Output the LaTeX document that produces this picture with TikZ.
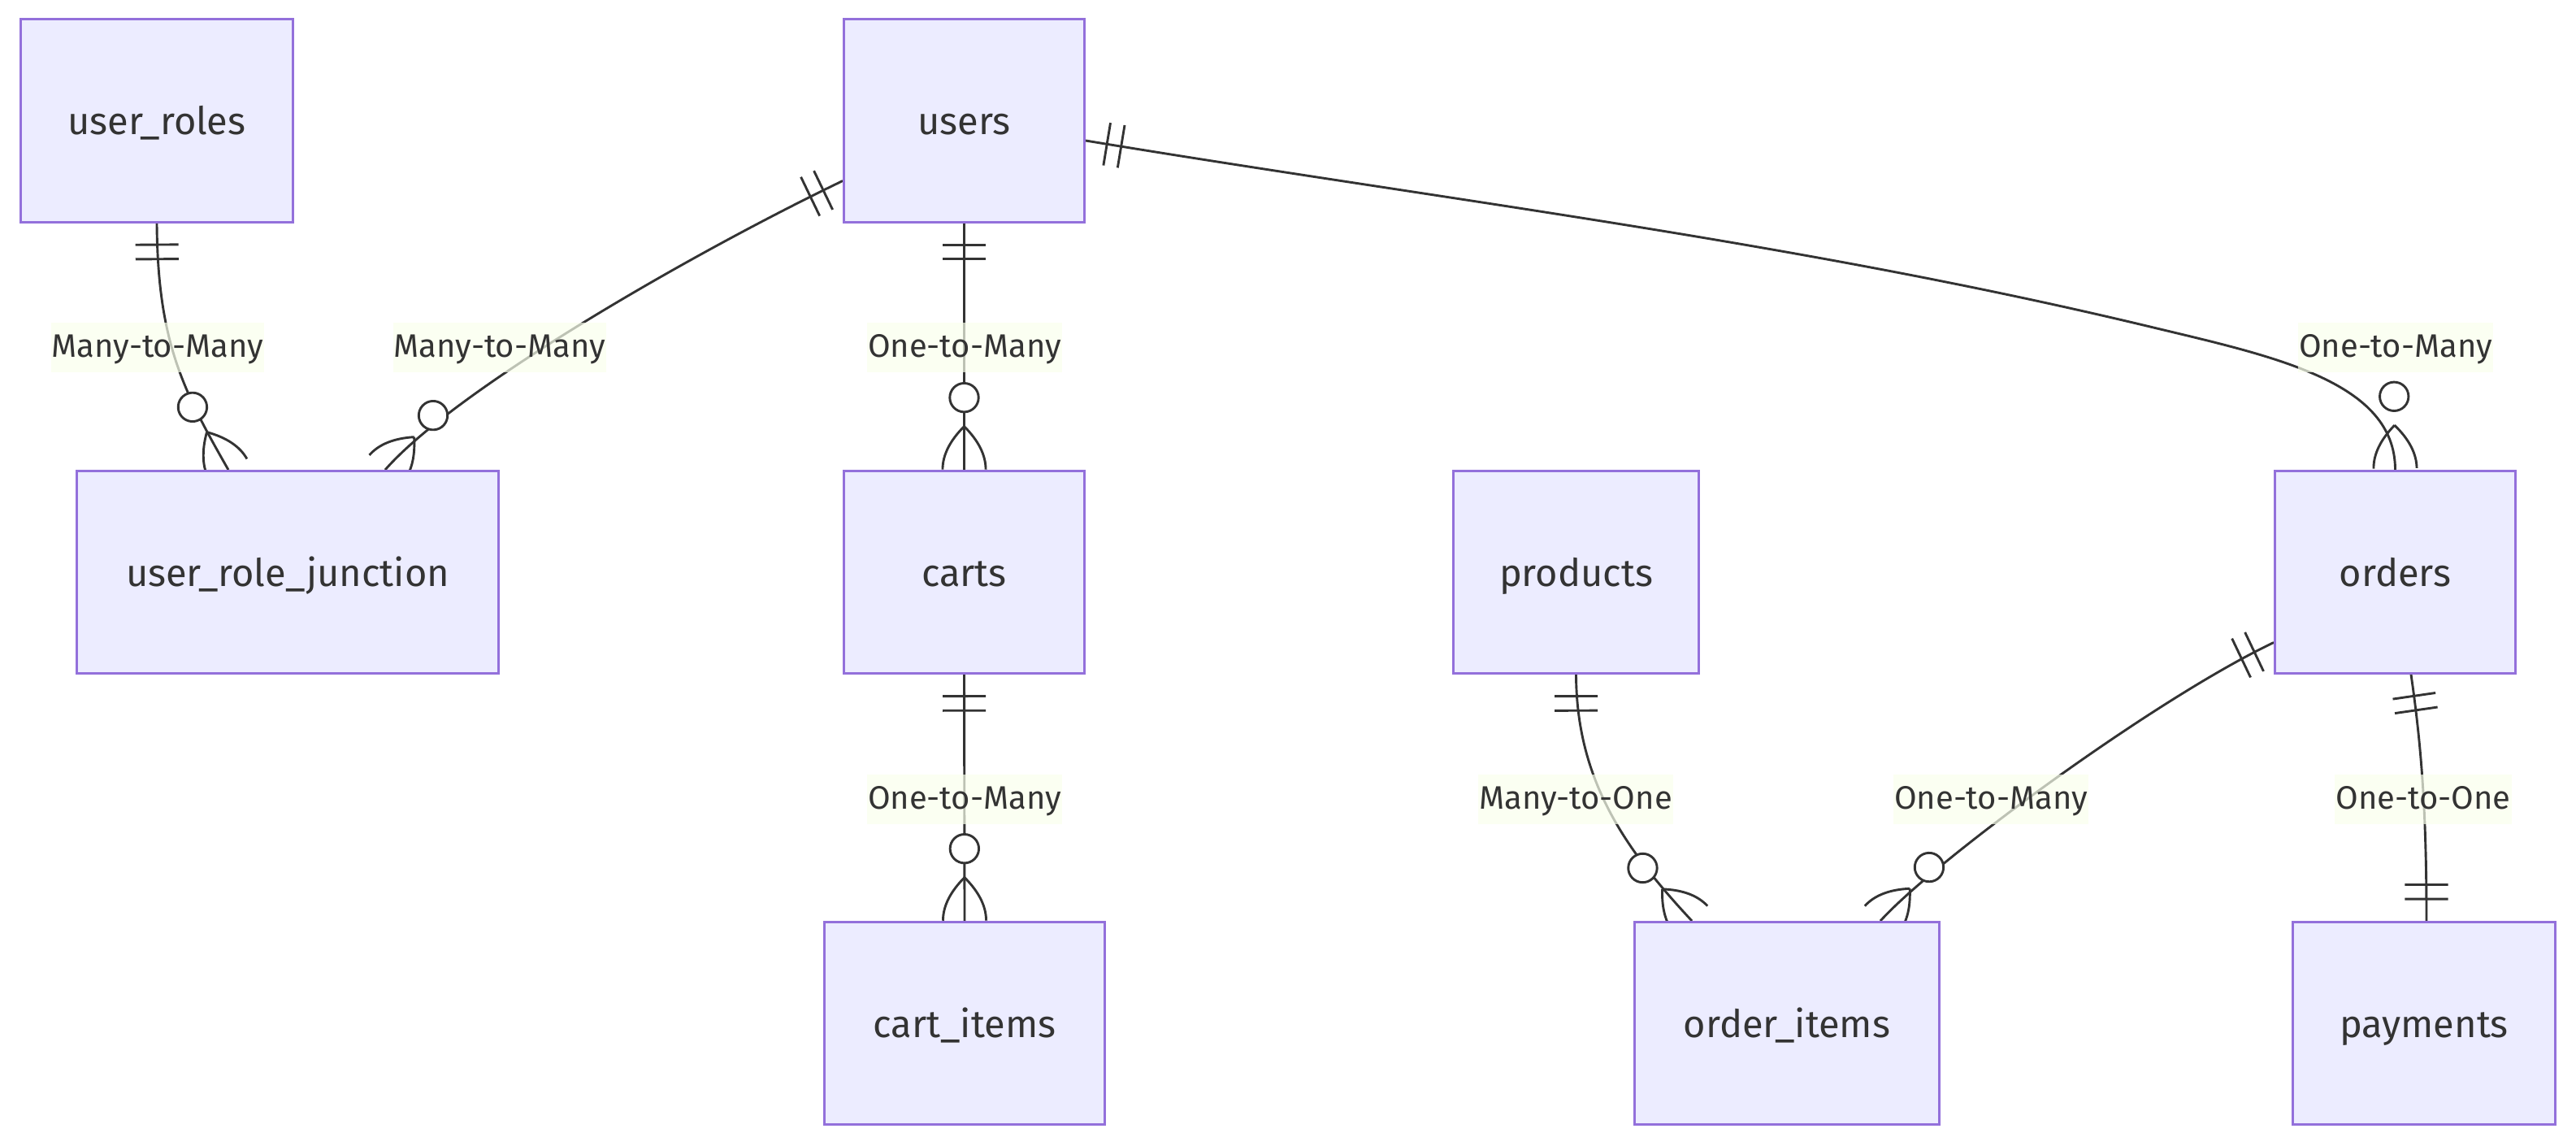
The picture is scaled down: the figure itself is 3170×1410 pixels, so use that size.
\documentclass[tikz,border=0pt]{standalone}
\usepackage{fontspec}
\setmainfont{Fira Sans}
\usetikzlibrary{decorations.markings,calc}
\definecolor{boxfill}{HTML}{ECECFF}
\definecolor{boxline}{HTML}{9370DB}
\definecolor{ink}{HTML}{333333}
\definecolor{lblfill}{RGB}{249,255,236}
\pgfdeclarelayer{bg}
\pgfsetlayers{bg,main}
\newcommand\ermkonestart{\draw[ink,line width=2.9pt,scale=2.95] (9,-9) -- (9,9) (15,-9) -- (15,9);}
\newcommand\ermkoneend{\draw[ink,line width=2.9pt,scale=2.95] (-9,-9) -- (-9,9) (-15,-9) -- (-15,9);}
\newcommand\ermkmanyend{%
  \draw[ink,line width=2.9pt,fill=white,scale=2.95] (-30,0) circle[radius=6];
  \draw[ink,line width=2.9pt,scale=2.95] (-18,0) .. controls (-12,6) and (-6,9) .. (0,9);
  \draw[ink,line width=2.9pt,scale=2.95] (-18,0) .. controls (-12,-6) and (-6,-9) .. (0,-9);}
\tikzset{
  entity/.style={draw=boxline, fill=boxfill, line width=3pt, text=ink,
    font=\fontsize{47}{52}\selectfont, inner sep=0pt, minimum height=249pt,
    text height=34pt, text depth=0pt},
  rel/.style={draw=ink, line width=2.9pt},
  rlabel/.style={fill=lblfill, fill opacity=0.7, text opacity=1, text=ink,
    font=\fontsize{40}{46}\selectfont, inner xsep=1pt, inner ysep=10pt,
    text height=33pt, text depth=8pt},
  onestart/.style={postaction={decorate,decoration={markings,mark=at position 0 with {\ermkonestart}}}},
  oneend/.style={postaction={decorate,decoration={markings,mark=at position 0.999 with {\ermkoneend}}}},
  manyend/.style={postaction={decorate,decoration={markings,mark=at position 0.999 with {\ermkmanyend}}}},
}
\begin{document}
\begin{tikzpicture}[x=1pt,y=-1pt]
\useasboundingbox (0,0) rectangle (3170,1410);
% entities
\node[entity, minimum width=335pt] (ur) at (193,148.5) {user\_roles};
\node[entity, minimum width=296pt] (users) at (1186.5,148.5) {users};
\node[entity, minimum width=519pt] (urj) at (354,704) {user\_role\_junction};
\node[entity, minimum width=296pt] (carts) at (1186.5,704) {carts};
\node[entity, minimum width=302pt] (products) at (1939.5,704) {products};
\node[entity, minimum width=296pt] (orders) at (2947.5,704) {orders};
\node[entity, minimum width=345pt] (citems) at (1187,1259) {cart\_items};
\node[entity, minimum width=375pt] (oitems) at (2199,1259) {order\_items};
\node[entity, minimum width=323pt] (payments) at (2983,1259) {payments};
% relationships
\begin{pgfonlayer}{bg}
\draw[rel, onestart, manyend] (ur.south) .. controls (194,420) and (225,480) .. ([xshift=-73pt]urj.north);
\draw[rel, onestart, manyend] ([yshift=-74pt]users.west) .. controls (845,315) and (560,480) .. ([xshift=120pt]urj.north);
\draw[rel, onestart, manyend] (users.south) -- (carts.north);
\draw[rel, onestart, manyend] ([yshift=-24.5pt]users.east) .. controls (1777,246) and (2210,297) .. (2650,403) .. controls (2800,439) and (orders.north |- 0,470) .. (orders.north);
\draw[rel, onestart, manyend] (carts.south) -- (citems.north);
\draw[rel, onestart, manyend] (products.south) .. controls (1940,960) and (2000,1045) .. ([xshift=-117pt]oitems.north);
\draw[rel, onestart, manyend] ([yshift=-86.5pt]orders.west) .. controls (2650,861) and (2380,1060) .. ([xshift=115pt]oitems.north);
\draw[rel, onestart, oneend] ([xshift=19.5pt]orders.south) .. controls (2980,920) and (2986,1000) .. ([xshift=3pt]payments.north);
\end{pgfonlayer}
% labels
\node[rlabel] (l1) at (194,427) {Many-to-Many};
\node[rlabel] (l2) at (615,427) {Many-to-Many};
\node[rlabel] (l3) at (1187,427) {One-to-Many};
\node[rlabel] (l4) at (2948,427) {One-to-Many};
\node[rlabel] (l5) at (1187,983) {One-to-Many};
\node[rlabel] (l6) at (1939,983) {Many-to-One};
\node[rlabel] (l7) at (2450,983) {One-to-Many};
\node[rlabel] (l8) at (2982,983) {One-to-One};
\end{tikzpicture}
\end{document}
